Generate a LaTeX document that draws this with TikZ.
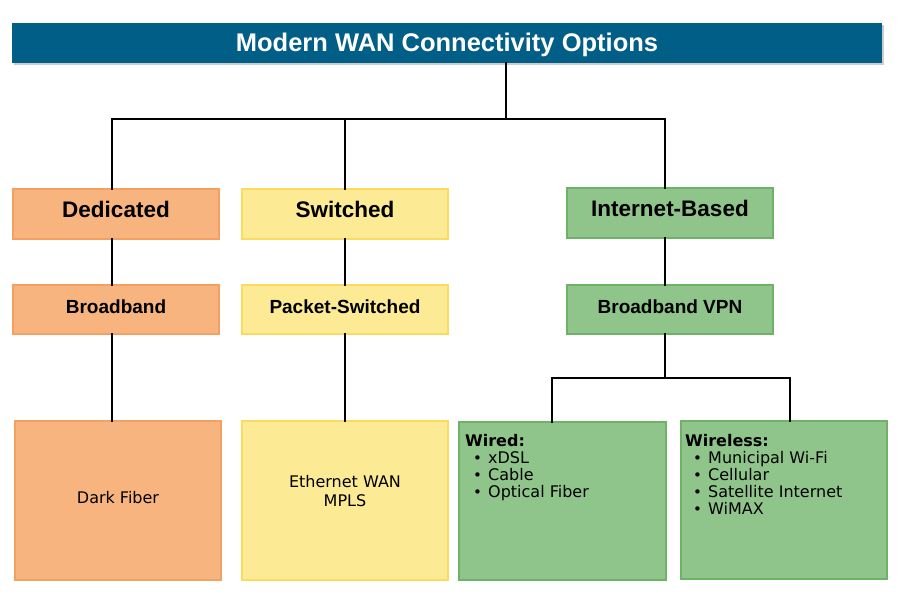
\documentclass[tikz,border=0pt]{standalone}
\usepackage{fontspec}
\setmainfont{DejaVu Sans}
\newfontfamily\headfont{Liberation Sans}
\usetikzlibrary{shadows}
\definecolor{titleblue}{HTML}{005E87}
\definecolor{orF}{HTML}{F8B47F}
\definecolor{orB}{HTML}{F4A060}
\definecolor{yeF}{HTML}{FDEA94}
\definecolor{yeB}{HTML}{FADB5E}
\definecolor{grF}{HTML}{8FC58A}
\definecolor{grB}{HTML}{6FB167}
\tikzset{
  box/.style={line width=1.2pt, inner sep=0pt, minimum width=206pt},
  orbox/.style={box, draw=orB, fill=orF},
  yebox/.style={box, draw=yeB, fill=yeF},
  grbox/.style={box, draw=grB, fill=grF},
  headA/.style={font=\headfont\bfseries\fontsize{22.5}{26}\selectfont, text height=28pt, text depth=22pt},
  headB/.style={font=\headfont\bfseries\fontsize{19}{22}\selectfont, text height=28pt, text depth=21pt},
  bodytxt/.style={font=\fontsize{16}{19}\selectfont, inner sep=0pt, anchor=base},
  listtxt/.style={font=\fontsize{16}{17}\selectfont, align=left, inner sep=0pt, anchor=north west},
  conn/.style={line width=2.6pt, line cap=rect}
}
\newcommand\bul{\hspace*{8pt}\makebox[15pt][l]{\fontsize{15}{15}\selectfont •}}
\begin{document}
\begin{tikzpicture}[x=1pt,y=-1pt]
\useasboundingbox (0,0) rectangle (907,596);
% title
\node[fill=titleblue, minimum width=870pt, text height=29pt, text depth=11pt, inner sep=0pt,
      drop shadow={shadow xshift=1.5pt, shadow yshift=-2pt, opacity=0.4},
      text=white, font=\headfont\bfseries\fontsize{25.5}{28}\selectfont] (title) at (447,43) {Modern WAN Connectivity Options};
% boxes
\node[orbox, headA] (ded) at (116,214) {Dedicated};
\node[yebox, headA] (sw) at (345,214) {Switched};
\node[grbox, headA] (inet) at (670,213) {Internet-Based};
\node[orbox, headB] (bb) at (116,309.5) {Broadband};
\node[yebox, headB] (ps) at (345,309.5) {Packet-Switched};
\node[grbox, headB] (vpn) at (670,309.5) {Broadband VPN};
\node[orbox, minimum height=159pt] (df) at (118,500.5) {};
\node[yebox, minimum height=159pt] (eth) at (345,500.5) {};
\node[grbox, minimum width=207pt, minimum height=158pt] (wired) at (562.5,501) {};
\node[grbox, minimum height=158pt] (wless) at (784,500) {};
\node[bodytxt] (dftxt) at (118,503) {Dark Fiber};
\node[bodytxt] (ethtxtA) at (345,487) {Ethernet WAN};
\node[bodytxt] (ethtxtB) at (345,506) {MPLS};
\node[listtxt] (wiredtxt) at (465,434) {\textbf{Wired:}\\\bul xDSL\\\bul Cable\\\bul Optical Fiber};
\node[listtxt] (wlesstxt) at (685,434) {\textbf{Wireless:}\\\bul Municipal Wi-Fi\\\bul Cellular\\\bul Satellite Internet\\\bul WiMAX};
% connectors
\coordinate (j) at (506,119);
\coordinate (hL) at (112,119);
\coordinate (hM) at (345,119);
\coordinate (hR) at (665,119);
\draw[conn] (j |- title.south) -- (j);
\draw[conn] (hL |- ded.north) -- (hL) -- (hR) -- (hR |- inet.north);
\draw[conn] (hM) -- (hM |- sw.north);
\draw[conn] (hL |- ded.south) -- (hL |- bb.north);
\draw[conn] (hL |- bb.south) -- (hL |- df.north);
\draw[conn] (hM |- sw.south) -- (hM |- ps.north);
\draw[conn] (hM |- ps.south) -- (hM |- eth.north);
\draw[conn] (hR |- inet.south) -- (hR |- vpn.north);
\coordinate (v) at (665,378);
\coordinate (vL) at (552,378);
\coordinate (vR) at (790,378);
\draw[conn] (hR |- vpn.south) -- (v);
\draw[conn] (vL |- wired.north) -- (vL) -- (vR) -- (vR |- wless.north);
\end{tikzpicture}
\end{document}
